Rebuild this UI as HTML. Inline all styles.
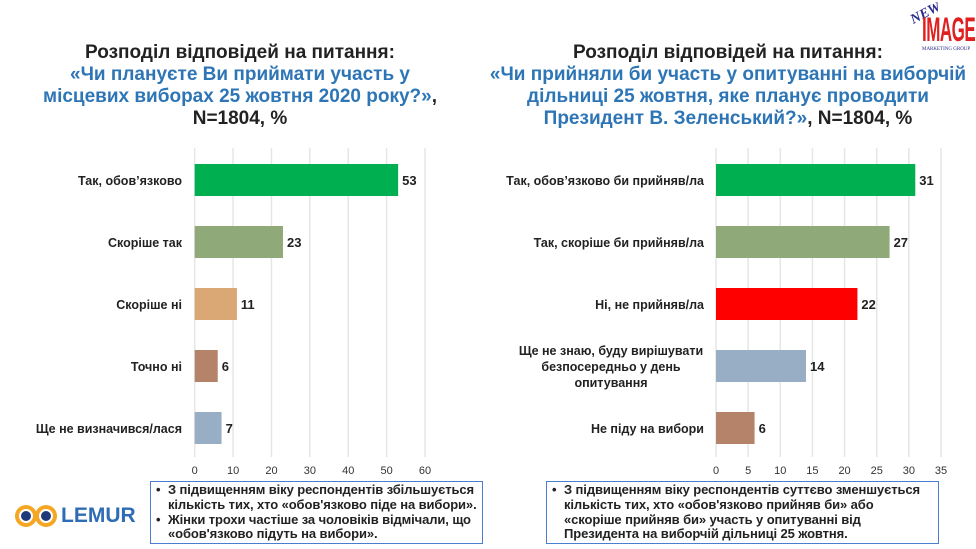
<!DOCTYPE html>
<html><head><meta charset="utf-8"><style>
body{margin:0;background:#fff;width:976px;height:549px;overflow:hidden;font-family:"Liberation Sans",sans-serif;position:relative}
.t{position:absolute;text-align:center;font-weight:bold;font-size:19px;line-height:22px;color:#222;white-space:nowrap}
.t .b{color:#2e75b6}
.note{position:absolute;border:1.5px solid #4a7fd0;font-size:13px;font-weight:bold;line-height:14.8px;color:#222;padding:1px 4px;box-sizing:border-box;white-space:nowrap;overflow:hidden}
.note .li{position:relative;padding-left:13px;letter-spacing:-0.1px}
.note .li:before{content:"•";position:absolute;left:1px;top:0}
</style></head><body>
<div class="t" style="left:20px;top:42px;width:440px">Розподіл відповідей на питання:<br><span class="b">«Чи плануєте Ви приймати участь у<br>місцевих виборах 25 жовтня 2020 року?»</span>,<br>N=1804, %</div>
<div class="t" style="left:478px;top:42px;width:500px">Розподіл відповідей на питання:<br><span class="b">«Чи прийняли би участь у опитуванні на виборчій<br>дільниці 25 жовтня, яке планує проводити<br>Президент В. Зеленський?»</span>, N=1804, %</div>
<div style="position:absolute;left:906px;top:2px;width:70px;height:52px;overflow:hidden">
<div style="position:absolute;left:4px;top:4px;color:#2a2a8a;font:italic bold 14px 'Liberation Serif',serif;transform:rotate(-28deg)">NEW</div>
<div style="position:absolute;left:16px;top:12px;color:#e02020;font:bold 34px 'Liberation Sans',sans-serif;letter-spacing:-1px;transform:scaleX(0.5);transform-origin:left;line-height:32px">IMAGE</div>
<div style="position:absolute;left:16px;top:45px;color:#2a2a8a;font:5px 'Liberation Serif',serif;white-space:nowrap">MARKETING GROUP</div></div>
<div style="position:absolute;left:12px;top:494px;width:125px;height:40px">
<svg width="50" height="40"><circle cx="14" cy="22" r="11" fill="#f5a623"/><circle cx="34" cy="22" r="11" fill="#f5a623"/><circle cx="14" cy="22" r="7" fill="#fff"/><circle cx="34" cy="22" r="7" fill="#fff"/><circle cx="14" cy="22" r="5" fill="#1f3a7a"/><circle cx="34" cy="22" r="5" fill="#1f3a7a"/></svg>
<span style="position:absolute;left:49px;top:10px;font:bold 21px 'Liberation Sans',sans-serif;color:#2e6db6">LEMUR</span></div>
<div class="note" style="left:150px;top:481px;width:333px;height:63px"><div class="li">З підвищенням віку респондентів збільшується<br>кількість тих, хто «обов'язково піде на вибори».</div><div class="li">Жінки трохи частіше за чоловіків відмічали, що<br>«обов'язково підуть на вибори».</div></div>
<div class="note" style="left:546px;top:481px;width:393px;height:63px"><div class="li">З підвищенням віку респондентів суттєво зменшується<br>кількість тих, хто «обов'язково прийняв би» або<br>«скоріше прийняв би» участь у опитуванні від<br>Президента на виборчій дільниці 25 жовтня.</div></div>
<svg id="c" width="976" height="549" style="position:absolute;left:0;top:0"></svg>
<script>
const leftCats=["Так, обов’язково","Скоріше так","Скоріше ні","Точно ні","Ще не визначився/лася"];
const leftVals=[53,23,11,6,7];
const leftColors=["#00b050","#8faa78","#d9a875","#b5836a","#97aec4"];
const leftTicks=[0,10,20,30,40,50,60];
const rightCats=[["Так, обов’язково би прийняв/ла"],["Так, скоріше би прийняв/ла"],["Ні, не прийняв/ла"],["Ще не знаю, буду вирішувати","безпосередньо у день","опитування"],["Не піду на вибори"]];
const rightVals=[31,27,22,14,6];
const rightColors=["#00b050","#8faa78","#ff0000","#97aec4","#b5836a"];
const rightTicks=[0,5,10,15,20,25,30,35];
const NS="http://www.w3.org/2000/svg",svg=document.getElementById('c');
function mk(t,a,txt){const e=document.createElementNS(NS,t);for(const k in a)e.setAttribute(k,a[k]);if(txt!==undefined)e.textContent=txt;svg.appendChild(e);return e;}
function chart(p,cats,vals,cols,ticks,x0,x1,labelRight){
 const max=ticks[ticks.length-1],sx=v=>x0+(x1-x0)*v/max,cy=i=>180+i*62;
 ticks.forEach(t=>{const g=mk('line',{x1:sx(t),x2:sx(t),y1:148,y2:457,stroke:'#e6e6e6','stroke-width':1.5});
 
 const l=mk('text',{x:sx(t),y:474,'text-anchor':'middle','font-size':11,fill:'#333'},t);
 });
 vals.forEach((v,i)=>{const r=mk('rect',{x:x0,y:cy(i)-16,width:sx(v)-x0,height:32,fill:cols[i]});
 
 const vl=mk('text',{x:sx(v)+4,y:cy(i)+5,'font-size':13,'font-weight':'bold',fill:'#222'},v);
 
 const lines=Array.isArray(cats[i])?cats[i]:[cats[i]];
 lines.forEach((s,j)=>{const c=mk('text',{x:labelRight,y:cy(i)+5+(j-(lines.length-1)/2)*16,'text-anchor':'middle','font-size':12.5,'font-weight':'bold',fill:'#222'},s);
 if(lines.length==1){c.setAttribute('text-anchor','end');}
 else c.setAttribute('x',labelRight-93);
 });
 });
}
chart('left',leftCats,leftVals,leftColors,leftTicks,194.7,425,182);
chart('right',rightCats,rightVals,rightColors,rightTicks,716,941,704);
</script>
</body></html>
